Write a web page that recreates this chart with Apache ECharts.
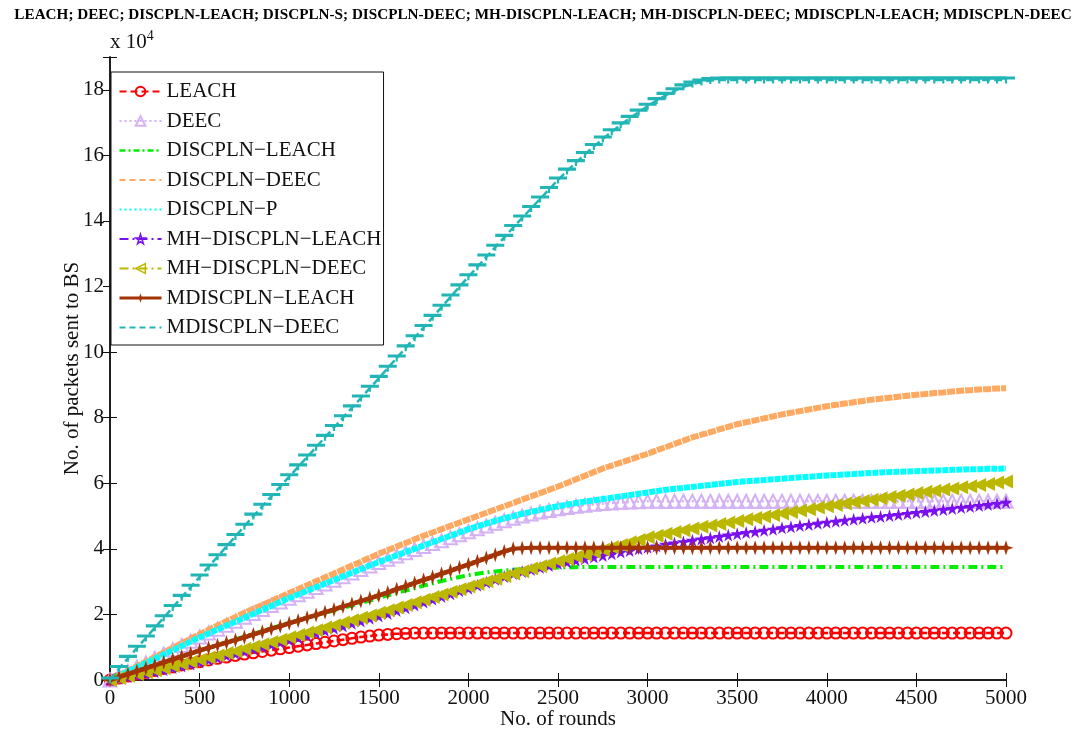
<!DOCTYPE html>
<html><head><meta charset="utf-8">
<script src="https://cdn.jsdelivr.net/npm/echarts@6/dist/echarts.min.js"></script>
<style>html,body{margin:0;padding:0;background:#fff}#c{width:1086px;height:730px}</style>
</head><body><div id="c"></div>
<script>
// x: number of rounds (sampling every 50 rounds)
const ROUNDS = [
0,50,100,150,200,250,300,350,400,450,
500,550,600,650,700,750,800,850,900,950,
1000,1050,1100,1150,1200,1250,1300,1350,1400,1450,
1500,1550,1600,1650,1700,1750,1800,1850,1900,1950,
2000,2050,2100,2150,2200,2250,2300,2350,2400,2450,
2500,2550,2600,2650,2700,2750,2800,2850,2900,2950,
3000,3050,3100,3150,3200,3250,3300,3350,3400,3450,
3500,3550,3600,3650,3700,3750,3800,3850,3900,3950,
4000,4050,4100,4150,4200,4250,4300,4350,4400,4450,
4500,4550,4600,4650,4700,4750,4800,4850,4900,4950,
5000];

// y values: packets sent to BS, in units of 10^4
const LEACH = [
0,0.06,0.12,0.18,0.23,0.29,0.35,0.40,0.46,0.51,
0.56,0.61,0.66,0.70,0.75,0.79,0.83,0.87,0.91,0.95,
0.99,1.03,1.07,1.11,1.15,1.19,1.23,1.27,1.31,1.34,
1.37,1.39,1.41,1.42,1.43,1.43,1.43,1.43,1.43,1.43,
1.43,1.43,1.43,1.43,1.43,1.43,1.43,1.43,1.43,1.43,
1.43,1.43,1.43,1.43,1.43,1.43,1.43,1.43,1.43,1.43,
1.43,1.43,1.43,1.43,1.43,1.43,1.43,1.43,1.43,1.43,
1.43,1.43,1.43,1.43,1.43,1.43,1.43,1.43,1.43,1.43,
1.43,1.43,1.43,1.43,1.43,1.43,1.43,1.43,1.43,1.43,
1.43,1.43,1.43,1.43,1.43,1.43,1.43,1.43,1.43,1.43,
1.43];
const DEEC = [
0,0.13,0.26,0.39,0.52,0.66,0.79,0.92,1.05,1.18,
1.31,1.43,1.55,1.67,1.79,1.91,2.03,2.15,2.27,2.38,
2.49,2.60,2.71,2.82,2.93,3.04,3.15,3.26,3.37,3.48,
3.58,3.68,3.78,3.88,3.98,4.07,4.16,4.25,4.34,4.43,
4.52,4.61,4.70,4.78,4.86,4.93,5.00,5.06,5.12,5.17,
5.22,5.26,5.30,5.33,5.36,5.38,5.40,5.42,5.43,5.44,
5.45,5.45,5.45,5.45,5.45,5.45,5.45,5.45,5.45,5.45,
5.45,5.45,5.45,5.45,5.45,5.45,5.45,5.45,5.45,5.45,
5.45,5.45,5.45,5.45,5.45,5.45,5.45,5.45,5.45,5.45,
5.45,5.45,5.45,5.45,5.45,5.45,5.45,5.45,5.45,5.45,
5.45];
const DISCPLN_LEACH = [
0,0.09,0.18,0.27,0.36,0.45,0.54,0.63,0.72,0.81,
0.90,0.98,1.07,1.15,1.24,1.32,1.41,1.49,1.58,1.66,
1.75,1.82,1.90,1.97,2.05,2.12,2.20,2.27,2.35,2.42,
2.50,2.58,2.65,2.73,2.80,2.88,2.95,3.02,3.08,3.14,
3.20,3.24,3.28,3.31,3.34,3.36,3.38,3.40,3.41,3.42,
3.43,3.44,3.44,3.45,3.45,3.45,3.45,3.45,3.45,3.45,
3.45,3.45,3.45,3.45,3.45,3.45,3.45,3.45,3.45,3.45,
3.45,3.45,3.45,3.45,3.45,3.45,3.45,3.45,3.45,3.45,
3.45,3.45,3.45,3.45,3.45,3.45,3.45,3.45,3.45,3.45,
3.45,3.45,3.45,3.45,3.45,3.45,3.45,3.45,3.45,3.45,
3.45];
const DISCPLN_DEEC = [
0,0.14,0.28,0.42,0.56,0.70,0.84,0.98,1.12,1.26,
1.40,1.53,1.66,1.79,1.92,2.05,2.17,2.29,2.41,2.53,
2.65,2.77,2.89,3.01,3.13,3.25,3.37,3.49,3.61,3.73,
3.85,3.96,4.07,4.18,4.29,4.40,4.50,4.60,4.70,4.80,
4.90,5.00,5.10,5.20,5.30,5.40,5.50,5.60,5.70,5.80,
5.90,6.01,6.12,6.23,6.34,6.45,6.54,6.63,6.72,6.81,
6.90,7.00,7.10,7.20,7.30,7.40,7.48,7.56,7.64,7.72,
7.80,7.86,7.92,7.98,8.04,8.10,8.15,8.20,8.25,8.30,
8.35,8.39,8.43,8.47,8.51,8.55,8.58,8.61,8.64,8.67,
8.70,8.72,8.75,8.77,8.80,8.82,8.84,8.86,8.87,8.89,
8.90];
const DISCPLN_P = [
0,0.13,0.26,0.39,0.52,0.65,0.78,0.91,1.04,1.17,
1.30,1.42,1.54,1.66,1.78,1.90,2.02,2.14,2.26,2.38,
2.50,2.61,2.72,2.83,2.94,3.05,3.16,3.27,3.38,3.49,
3.60,3.70,3.80,3.90,4.00,4.10,4.20,4.30,4.40,4.50,
4.60,4.69,4.77,4.85,4.93,5.00,5.07,5.13,5.19,5.25,
5.30,5.35,5.40,5.44,5.48,5.52,5.56,5.60,5.64,5.68,
5.72,5.76,5.80,5.83,5.86,5.89,5.92,5.95,5.98,6.01,
6.04,6.06,6.08,6.10,6.12,6.14,6.16,6.18,6.20,6.22,
6.24,6.25,6.27,6.28,6.30,6.31,6.33,6.34,6.35,6.36,
6.37,6.38,6.39,6.40,6.41,6.42,6.43,6.43,6.44,6.44,
6.45];
const MH_DISCPLN_LEACH = [
0,0.05,0.10,0.15,0.20,0.25,0.31,0.37,0.43,0.49,
0.55,0.62,0.68,0.75,0.81,0.88,0.95,1.02,1.08,1.15,
1.22,1.29,1.36,1.43,1.51,1.58,1.65,1.73,1.80,1.88,
1.95,2.03,2.12,2.20,2.29,2.38,2.46,2.55,2.63,2.72,
2.80,2.89,2.98,3.07,3.16,3.25,3.31,3.37,3.43,3.49,
3.55,3.60,3.65,3.70,3.75,3.80,3.85,3.90,3.95,4.00,
4.05,4.09,4.14,4.18,4.22,4.26,4.30,4.34,4.38,4.42,
4.46,4.50,4.53,4.57,4.60,4.64,4.67,4.71,4.74,4.78,
4.81,4.84,4.87,4.90,4.93,4.96,4.99,5.02,5.05,5.08,
5.11,5.14,5.17,5.20,5.23,5.26,5.29,5.32,5.35,5.38,
5.42];
const MH_DISCPLN_DEEC = [
0,0.06,0.12,0.18,0.24,0.30,0.36,0.43,0.49,0.56,
0.62,0.69,0.75,0.82,0.88,0.95,1.02,1.09,1.16,1.23,
1.30,1.37,1.45,1.52,1.60,1.67,1.75,1.82,1.90,1.97,
2.05,2.13,2.21,2.29,2.37,2.45,2.53,2.61,2.69,2.77,
2.85,2.93,3.01,3.09,3.17,3.25,3.32,3.40,3.47,3.55,
3.62,3.69,3.76,3.83,3.90,3.97,4.05,4.12,4.20,4.27,
4.35,4.40,4.46,4.51,4.57,4.62,4.67,4.71,4.76,4.80,
4.85,4.90,4.94,4.99,5.03,5.08,5.12,5.17,5.21,5.26,
5.30,5.34,5.38,5.42,5.46,5.50,5.54,5.58,5.62,5.66,
5.70,5.74,5.77,5.81,5.84,5.88,5.91,5.95,5.98,6.02,
6.05];
const MDISCPLN_LEACH = [
0,0.09,0.18,0.27,0.36,0.45,0.54,0.63,0.72,0.81,
0.90,0.98,1.06,1.14,1.22,1.30,1.39,1.47,1.56,1.64,
1.73,1.81,1.90,1.98,2.07,2.15,2.24,2.32,2.41,2.49,
2.58,2.67,2.77,2.86,2.96,3.05,3.14,3.24,3.33,3.43,
3.52,3.62,3.72,3.82,3.92,4.00,4.02,4.03,4.03,4.03,
4.03,4.03,4.03,4.03,4.03,4.03,4.03,4.03,4.03,4.03,
4.03,4.03,4.03,4.03,4.03,4.03,4.03,4.03,4.03,4.03,
4.03,4.03,4.03,4.03,4.03,4.03,4.03,4.03,4.03,4.03,
4.03,4.03,4.03,4.03,4.03,4.03,4.03,4.03,4.03,4.03,
4.03,4.03,4.03,4.03,4.03,4.03,4.03,4.03,4.03,4.03,
4.03];
const MDISCPLN_DEEC = [
0,0.35,0.66,0.97,1.28,1.59,1.90,2.21,2.52,2.83,
3.14,3.45,3.76,4.07,4.38,4.69,5.00,5.30,5.60,5.90,
6.20,6.50,6.80,7.10,7.40,7.70,8.00,8.30,8.60,8.90,
9.20,9.51,9.82,10.13,10.44,10.75,11.06,11.37,11.68,11.99,
12.30,12.60,12.90,13.20,13.50,13.80,14.09,14.38,14.67,14.96,
15.25,15.52,15.78,16.03,16.27,16.50,16.72,16.93,17.13,17.32,
17.50,17.67,17.83,17.97,18.09,18.18,18.24,18.28,18.30,18.30,
18.30,18.30,18.30,18.30,18.30,18.30,18.30,18.30,18.30,18.30,
18.30,18.30,18.30,18.30,18.30,18.30,18.30,18.30,18.30,18.30,
18.30,18.30,18.30,18.30,18.30,18.30,18.30,18.30,18.30,18.30,
18.30];

const X_TICKS = [0,500,1000,1500,2000,2500,3000,3500,4000,4500,5000];
const Y_TICKS = [0,2,4,6,8,10,12,14,16,18];
const M = '\u2212';
const NAMES = ['LEACH','DEEC','DISCPLN'+M+'LEACH','DISCPLN'+M+'DEEC','DISCPLN'+M+'P',
  'MH'+M+'DISCPLN'+M+'LEACH','MH'+M+'DISCPLN'+M+'DEEC','MDISCPLN'+M+'LEACH','MDISCPLN'+M+'DEEC'];
const TITLE = 'LEACH; DEEC; DISCPLN-LEACH; DISCPLN-S; DISCPLN-DEEC; MH-DISCPLN-LEACH; MH-DISCPLN-DEEC; MDISCPLN-LEACH; MDISCPLN-DEEC';

const FONT = 'Liberation Serif';
const FS = 21;
const STAR5 = 'path://M50,0 L61,35 L98,35 L68,57 L79,91 L50,70 L21,91 L32,57 L2,35 L39,35 Z';
const STAR4 = 'path://M50,0 L62,38 L100,50 L62,62 L50,100 L38,62 L0,50 L38,38 Z';
const BAR = 'path://M0,0 L100,0 L100,22 L56,22 L56,50 L44,50 L44,22 L0,22 Z';

function pts(vals){ return ROUNDS.map((r,i)=>[r, vals[i]]); }

const styles = [
  {data: LEACH, color:'#ff0000', type:[7,4], width:2.5, symbol:'circle', size:11, fill:'rgba(0,0,0,0)', border:2},
  {data: DEEC, color:'#d4b0f4', type:[2,3], width:2.5, symbol:'triangle', size:13, fill:'rgba(0,0,0,0)', border:2},
  {data: DISCPLN_LEACH, color:'#00ee00', type:[9,4,2,4], width:4, symbol:'none'},
  {data: DISCPLN_DEEC, color:'#ffa860', type:[8,1], width:6, symbol:'none'},
  {data: DISCPLN_P, color:'#00ffff', type:[6,1], width:6, symbol:'none'},
  {data: MH_DISCPLN_LEACH, color:'#7a10ee', type:[9,4,2,4], width:3, symbol:STAR5, size:13, fill:'#7a10ee', border:0},
  {data: MH_DISCPLN_DEEC, color:'#bcb800', type:[9,4,2,4], width:3, symbol:'triangle', size:14, fill:'#bcb800', border:0, rotate:90},
  {data: MDISCPLN_LEACH, color:'#a33405', type:'solid', width:4, symbol:STAR4, size:15, fill:'#a33405', border:0},
  {data: MDISCPLN_DEEC, color:'#21b5b5', type:[8,4], width:2.5, symbol:BAR, size:[18,7], fill:'#21b5b5', border:0}
];

const series = styles.map((s,i)=>({
  name: NAMES[i], type:'line', xAxisIndex:0, yAxisIndex:0,
  data: pts(s.data), symbol: s.symbol, symbolSize: s.size || 0,
  symbolRotate: s.rotate || 0, showSymbol: s.symbol !== 'none',
  lineStyle:{color:s.color, type:s.type, width:s.width},
  itemStyle:{color: s.fill || s.color, borderColor:s.color, borderWidth:s.border||0},
  emphasis:{disabled:true}, animation:false, z: 2+i
}));

const HIDE = {color:'rgba(0,0,0,0)', borderColor:'rgba(0,0,0,0)', borderWidth:0};
const legendData = NAMES.map((n,i)=>{
  const s = styles[i];
  const d = {name:n};
  if (i===2) { d.itemStyle = HIDE; d.lineStyle = {width:2.5, type:[6,3,2,3]}; }
  if (i===3) { d.itemStyle = HIDE; d.lineStyle = {width:2, type:[6,4]}; }
  if (i===4) { d.itemStyle = HIDE; d.lineStyle = {width:2, type:[2,3]}; }
  if (i===8) { d.itemStyle = HIDE; d.lineStyle = {width:2, type:[6,4]}; }
  if (i===5||i===6) { d.itemStyle = {color:'rgba(0,0,0,0)', borderColor:s.color, borderWidth:1.5}; d.lineStyle={width:2}; }
  if (i===0||i===1) { d.lineStyle = {width:2}; }
  if (i===7) { d.lineStyle = {width:3}; }
  return d;
});

const axisCommon = {
  axisLine:{show:true, lineStyle:{color:'#111', width:1.5}},
  axisTick:{show:true, inside:true, length:7, lineStyle:{color:'#111', width:1}},
  splitLine:{show:false}
};

const option = {
  backgroundColor:'#fff',
  animation:false,
  title:{text:TITLE, left:'center', top:3,
    textStyle:{fontFamily:FONT, fontWeight:'bold', fontSize:15.2, color:'#000'}},
  grid:{left:110, right:80, top:57, bottom:50, containLabel:false, outerBoundsMode:'none'},
  legend:{
    data: legendData, orient:'vertical', left:111, top:72,
    backgroundColor:'#fff', borderColor:'#111', borderWidth:1,
    padding:[9,2,7,7], itemGap:8.5, itemWidth:42, itemHeight:12,
    textStyle:{fontFamily:FONT, fontSize:FS, color:'#111', lineHeight:20},
    selectedMode:false
  },
  xAxis:[
    Object.assign({type:'value', min:0, max:5000, interval:500, position:'bottom',
      name:'No. of rounds', nameLocation:'middle', nameGap:29, nameMoveOverlap:false,
      nameTextStyle:{fontFamily:FONT, fontSize:FS, color:'#111'},
      axisLabel:{fontFamily:FONT, fontSize:FS, color:'#111', margin:8,
        formatter:v=>X_TICKS.includes(v)?String(v):''}}, axisCommon),
    Object.assign({type:'value', min:0, max:5000, interval:500, position:'top',
      axisLabel:{show:false}}, axisCommon)
  ],
  yAxis:[
    Object.assign({type:'value', min:0, max:19, interval:2, position:'left',
      name:'No. of packets sent to BS', nameLocation:'middle', nameGap:27, nameMoveOverlap:false,
      nameTextStyle:{fontFamily:FONT, fontSize:FS, color:'#111'},
      axisLabel:{fontFamily:FONT, fontSize:FS, color:'#111', margin:6,
        formatter:v=>Y_TICKS.includes(v)?String(v):''}}, axisCommon),
    Object.assign({type:'value', min:0, max:19, interval:2, position:'right',
      axisLabel:{show:false}}, axisCommon)
  ],
  graphic:[{
    type:'text', left:110, top:29,
    style:{text:'{a|x 10}{b|4}', rich:{
      a:{fontFamily:FONT, fontSize:FS, fill:'#111', verticalAlign:'bottom', lineHeight:24},
      b:{fontFamily:FONT, fontSize:14, fill:'#111', verticalAlign:'top', lineHeight:24, padding:[0,0,12,0]}
    }}
  }],
  series: series
};

const chart = echarts.init(document.getElementById('c'), null, {renderer:'canvas'});
chart.setOption(option);
</script></body></html>
